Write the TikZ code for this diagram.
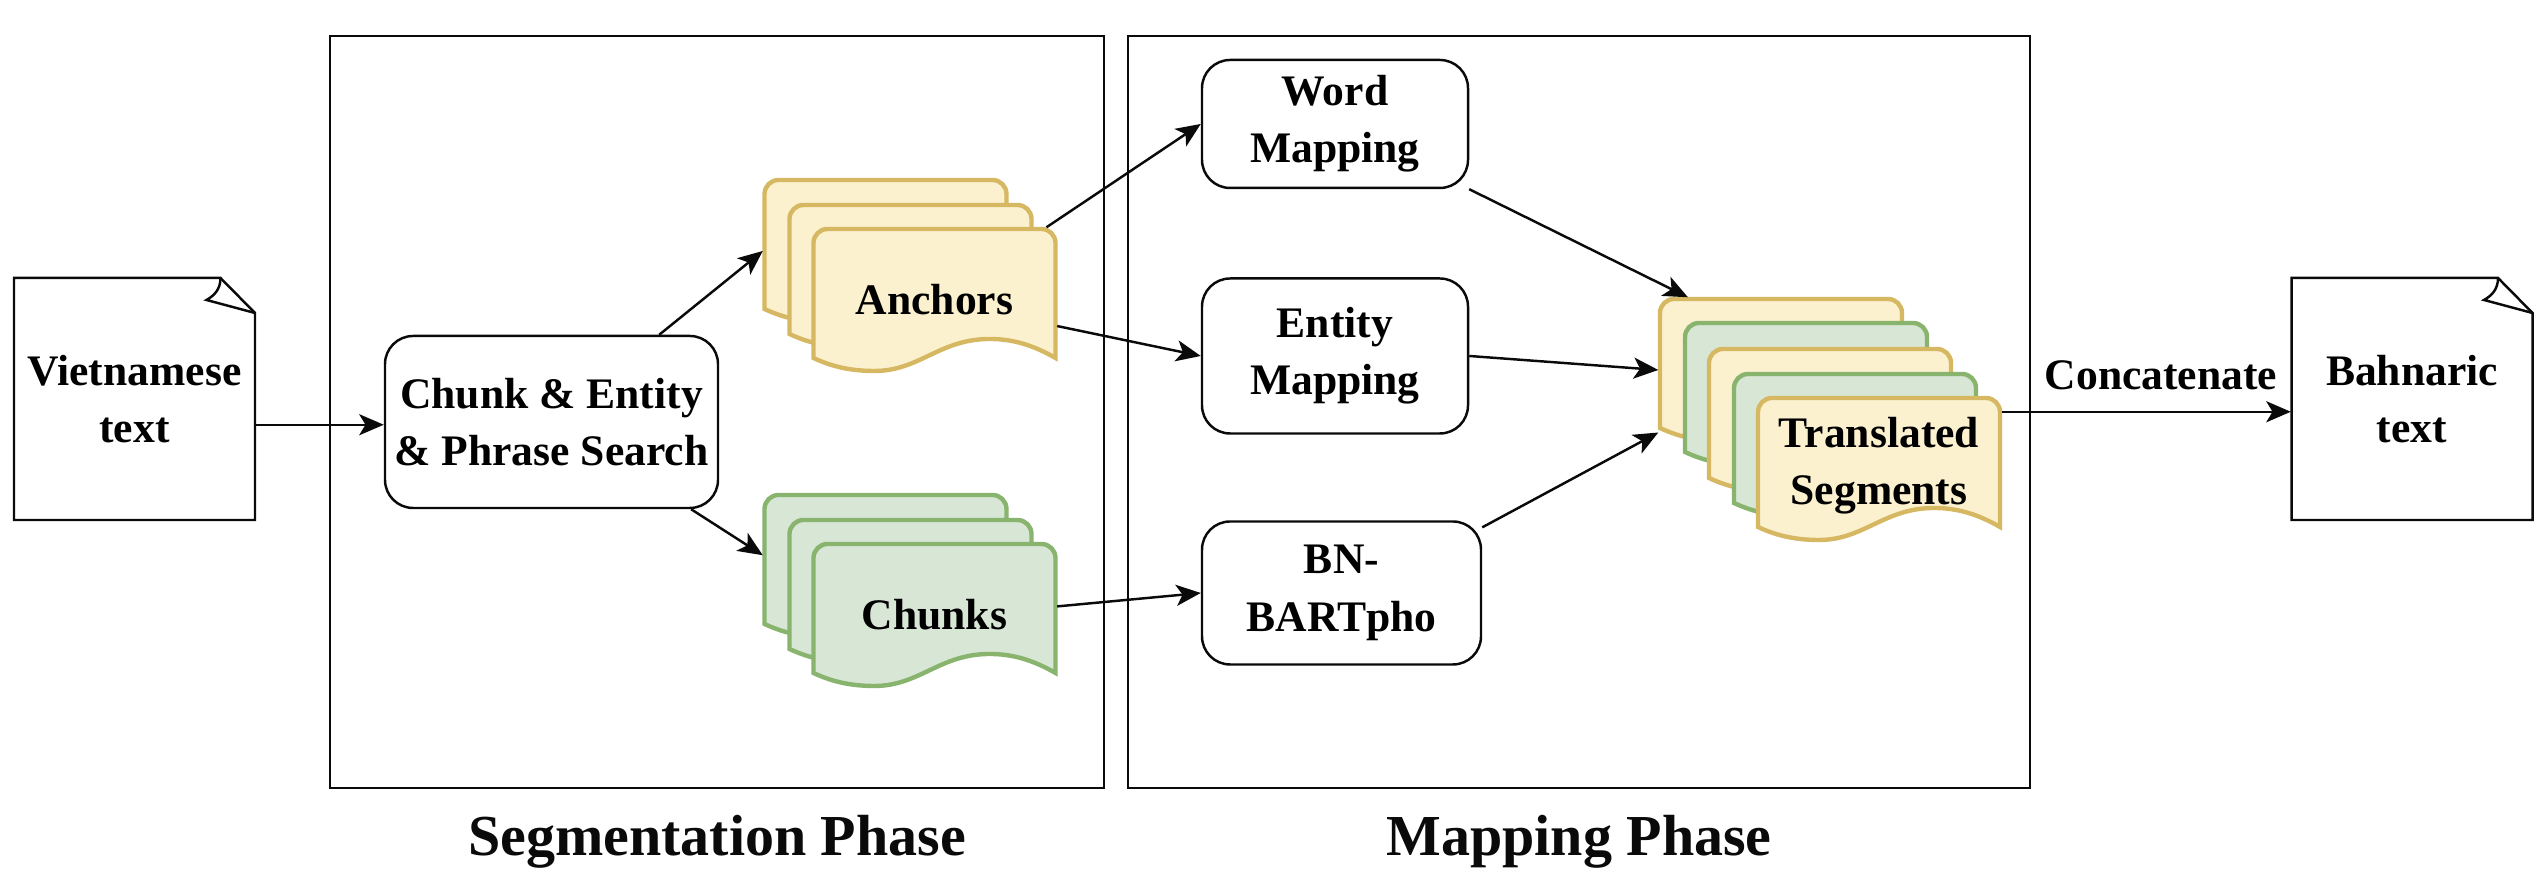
\documentclass[tikz,border=0pt]{standalone}
\usepackage{fontspec}
\setmainfont{Liberation Serif}
\usetikzlibrary{arrows.meta, positioning}
\definecolor{cYellow}{RGB}{252, 241, 207}
\definecolor{bYellow}{RGB}{214, 184, 98}
\definecolor{cGreen}{RGB}{216, 230, 214}
\definecolor{bGreen}{RGB}{136, 180, 110}
\definecolor{tDark}{RGB}{10, 10, 10}

% name, position, border, fill, text
\newcommand{\wavesheet}[5]{
    \draw[draw=#3, fill=#4, line width=1.25pt, shift={(#2)}]
        (-1.21,-0.58) .. controls (-1,-0.68) and (-0.8,-0.71) .. (-0.6,-0.71)
        .. controls (-0.15,-0.71) and (0.05,-0.39) .. (0.55,-0.39)
        .. controls (0.8,-0.39) and (1,-0.46) .. (1.21,-0.58)
        -- (1.21,0.57) arc (0:90:0.14) -- (-1.07,0.71) arc (90:180:0.14) -- cycle;
    \node[sheetbox] (#1) at (#2) {#5};
}
% name, position, text
\newcommand{\paperdoc}[3]{
    \draw[paperline, shift={(#2)}]
        (-1.205,-1.21) -- (-1.205,1.21) -- (0.86,1.21) -- (1.205,0.86) -- (1.205,-1.21) -- cycle;
    \draw[paperline, shift={(#2)}]
        (0.86,1.21) .. controls (0.86,1.09) and (0.79,1.03) .. (0.72,0.99) -- (1.205,0.86);
    \node[paperbox] (#1) at (#2) {#3};
}

\begin{document}
\begin{tikzpicture}[
    font=\bfseries\fontsize{12.4}{16.3}\selectfont,
    >={Stealth[length=7pt, width=6pt, inset=1.8pt]},
    frame/.style={
        draw=tDark,
        line width=0.7pt,
        minimum height=7.52cm
    },
    block/.style={
        draw=tDark,
        line width=0.7pt,
        rounded corners=8pt,
        align=center,
        inner sep=0pt
    },
    sheetbox/.style={
        minimum width=2.44cm,
        minimum height=1.44cm,
        inner sep=0pt,
        align=center
    },
    paperbox/.style={
        minimum width=2.41cm,
        minimum height=2.42cm,
        inner sep=0pt,
        align=center
    },
    paperline/.style={draw=tDark, line width=0.7pt, line join=miter},
    arrow/.style={->, line width=0.7pt, color=tDark},
    phase/.style={font=\bfseries\fontsize{16.5}{20}\selectfont, text=tDark}
]

\useasboundingbox (0,0) rectangle (25.46,8.96);

% Phases
\node[frame, minimum width=7.74cm] (segbox) at (7.17, 4.84) {};
\node[frame, minimum width=9.02cm] (mapbox) at (15.79, 4.84) {};
\node[phase] (seglabel) at (7.17, 0.54) {Segmentation Phase};
\node[phase] (maplabel) at (15.79, 0.54) {Mapping Phase};

% Input and output
\paperdoc{viet}{1.345, 4.97}{Vietnamese\\text}
\paperdoc{bahn}{24.12, 4.97}{Bahnaric\\text}

\node[block, minimum width=3.33cm, minimum height=1.72cm] (search) at (5.515, 4.74) {Chunk \& Entity\\\& Phrase Search};

% Anchors
\wavesheet{anc1}{8.855, 6.45}{bYellow}{cYellow}{}
\wavesheet{anc2}{9.105, 6.20}{bYellow}{cYellow}{}
\wavesheet{anc3}{9.345, 5.96}{bYellow}{cYellow}{Anchors}

% Chunks
\wavesheet{chk1}{8.855, 3.30}{bGreen}{cGreen}{}
\wavesheet{chk2}{9.105, 3.05}{bGreen}{cGreen}{}
\wavesheet{chk3}{9.345, 2.81}{bGreen}{cGreen}{Chunks}

% Mapping
\node[block, minimum width=2.66cm, minimum height=1.28cm] (word) at (13.35, 7.72) {Word\\Mapping};
\node[block, minimum width=2.66cm, minimum height=1.55cm] (entity) at (13.35, 5.40) {Entity\\Mapping};
\node[block, minimum width=2.79cm, minimum height=1.43cm] (bart) at (13.415, 3.03) {BN-\\BARTpho};

% Translated segments
\wavesheet{seg1}{17.81, 5.26}{bYellow}{cYellow}{}
\wavesheet{seg2}{18.06, 5.02}{bGreen}{cGreen}{}
\wavesheet{seg3}{18.30, 4.76}{bYellow}{cYellow}{}
\wavesheet{seg4}{18.55, 4.51}{bGreen}{cGreen}{}
\wavesheet{seg5}{18.79, 4.27}{bYellow}{cYellow}{Translated\\Segments\rule[-0.16cm]{0pt}{0pt}}

\node (concat) at (21.61, 5.21) {Concatenate};

\draw[arrow] (viet.348) -- (viet.348 -| search.west);
\draw[arrow] (search.39) -- (anc1.west);
\draw[arrow] (search.328) -- (chk1.175);
\draw[arrow] (anc3.33) -- (word.west);
\draw[arrow] (anc3.348) -- (entity.west);
\draw[arrow] (chk3.4) -- (bart.west);
\draw[arrow] (word.south east) -- (seg1.142);
\draw[arrow] (entity.east) -- (seg1.west);
\draw[arrow] (bart.25) -- (seg1.207);
\draw[arrow] (seg5.25) -- (seg5.25 -| bahn.west);

\end{tikzpicture}
\end{document}
